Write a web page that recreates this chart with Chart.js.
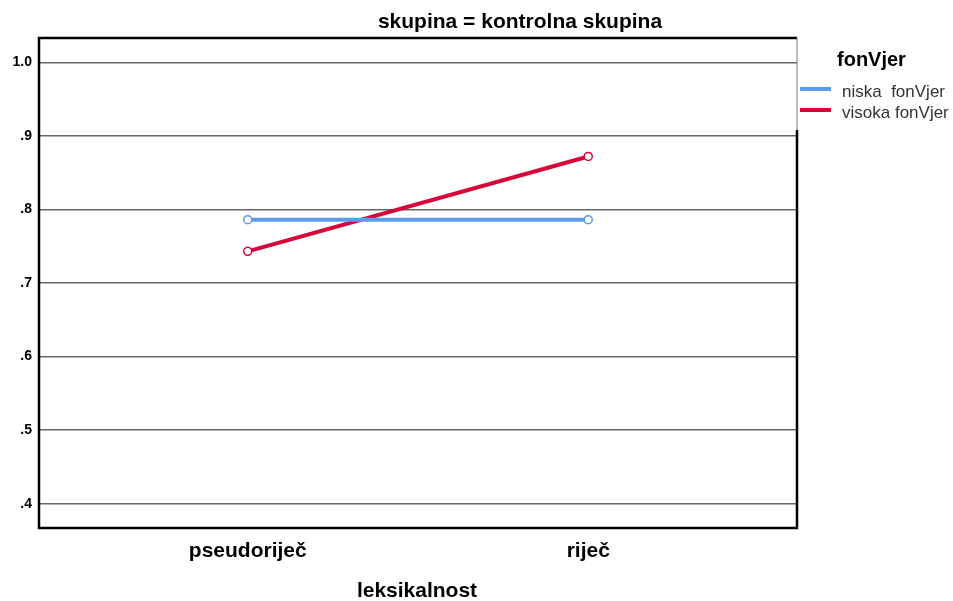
<!DOCTYPE html>
<html>
<head>
<meta charset="utf-8">
<script src="https://cdn.jsdelivr.net/npm/chart.js@4.4.1/dist/chart.umd.min.js"></script>
<style>
  html, body { margin: 0; padding: 0; background: #fff; }
  #wrap { width: 953px; height: 601px; position: relative; }
</style>
</head>
<body>
<div id="wrap"><canvas id="chart"></canvas></div>
<script>
const categories = ["pseudoriječ", "riječ"];
const niskaValues = [0.786, 0.786];
const visokaValues = [0.743, 0.872];
const yTickValues = [0.4, 0.5, 0.6, 0.7, 0.8, 0.9, 1.0];
const seriesNames = ["niska  fonVjer", "visoka fonVjer"];
const seriesColors = ["#5b9cec", "#d7063a"];
const chartTitle = "skupina = kontrolna skupina";
const legendTitle = "fonVjer";
const xTitle = "leksikalnost";

const FONT = "Arial, 'Liberation Sans', sans-serif";

// SPSS style frame, title, legend
const decorations = {
  id: "decorations",
  afterDraw(chart) {
    const { ctx, chartArea: a } = chart;
    ctx.save();
    // frame
    ctx.strokeStyle = "#000";
    ctx.lineWidth = 2.5;
    ctx.beginPath();
    ctx.moveTo(a.right, 130);
    ctx.lineTo(a.right, a.bottom);
    ctx.lineTo(a.left, a.bottom);
    ctx.lineTo(a.left, a.top);
    ctx.lineTo(a.right, a.top);
    ctx.stroke();
    ctx.strokeStyle = "#777";
    ctx.lineWidth = 1;
    ctx.beginPath();
    ctx.moveTo(a.right, a.top);
    ctx.lineTo(a.right, 130);
    ctx.stroke();

    ctx.fillStyle = "#000";
    ctx.textBaseline = "middle";
    ctx.textAlign = "center";
    ctx.font = "bold 21px " + FONT;
    ctx.fillText(chartTitle, 520, 22);
    ctx.fillText(xTitle, 417, 591);

    ctx.textAlign = "left";
    ctx.font = "bold 20px " + FONT;
    ctx.fillText(legendTitle, 837, 60);

    ctx.font = "17px " + FONT;
    ctx.lineWidth = 4;
    seriesNames.forEach((name, i) => {
      const y = 89 + i * 21;
      ctx.strokeStyle = seriesColors[i];
      ctx.beginPath();
      ctx.moveTo(800, y);
      ctx.lineTo(831, y);
      ctx.stroke();
      ctx.fillStyle = "#333";
      ctx.fillText(name, 842, y + 3);
    });
    ctx.restore();
  },
};

function series(label, values, color) {
  return {
    label,
    data: values.map((v, i) => ({ x: i, y: v })),
    borderColor: color,
    backgroundColor: "rgba(0,0,0,0)",
    borderWidth: 4,
    pointRadius: 4,
    pointBorderWidth: 1.5,
    pointBorderColor: color,
    pointBackgroundColor: "#fff",
    fill: false,
    tension: 0,
  };
}

new Chart(document.getElementById("chart").getContext("2d"), {
  type: "line",
  data: {
    datasets: [
      series(seriesNames[0], niskaValues, seriesColors[0]),
      series(seriesNames[1], visokaValues, seriesColors[1]),
    ],
  },
  plugins: [decorations],
  options: {
    responsive: true,
    maintainAspectRatio: false,
    animation: false,
    layout: { padding: { top: 38, right: 156, left: 0, bottom: 0 } },
    plugins: { legend: { display: false }, tooltip: { enabled: false } },
    scales: {
      x: {
        type: "linear",
        min: -0.613,
        max: 1.613,
        afterBuildTicks: s => { s.ticks = categories.map((c, i) => ({ value: i })); },
        afterFit: s => { s.height = 73; },
        grid: { display: false, drawTicks: false },
        border: { display: false },
        ticks: {
          padding: 11,
          color: "#000",
          font: { size: 21, weight: "bold", family: FONT },
          callback: v => categories[v] ?? "",
          maxRotation: 0,
        },
      },
      y: {
        min: 0.367,
        max: 1.033,
        afterBuildTicks: s => { s.ticks = yTickValues.map(v => ({ value: v })); },
        afterFit: s => { s.width = 39; },
        grid: { color: "#666", lineWidth: 1.5, drawTicks: false },
        border: { display: false },
        ticks: {
          padding: 7,
          color: "#000",
          font: { size: 14, weight: "bold", family: FONT },
          callback: v => v.toFixed(1).replace(/^0/, ""),
        },
      },
    },
  },
});
</script>
</body>
</html>
